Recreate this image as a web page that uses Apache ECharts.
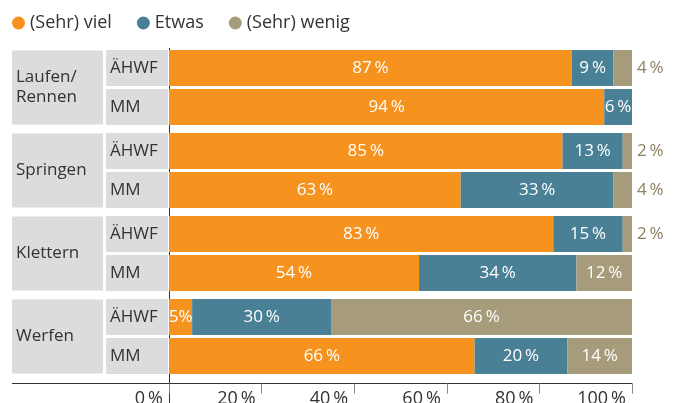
<!DOCTYPE html>
<html>
<head>
<meta charset="utf-8">
<script src="https://cdn.jsdelivr.net/npm/echarts@6/dist/echarts.min.js"></script>
<style>html,body{margin:0;padding:0;background:#fff}#chart{width:681px;height:403px}</style>
</head>
<body>
<div id="chart"></div>
<script>
// Gruppen und Zeilen
const groups = ['Laufen/\nRennen', 'Springen', 'Klettern', 'Werfen'];
const subgroups = ['ÄHWF', 'MM'];
const seriesNames = ['(Sehr) viel', 'Etwas', '(Sehr) wenig'];
// Werte je Zeile: ÄHWF, MM für jede Gruppe
const viel = [87, 94, 85, 63, 83, 54, 5, 66];
const etwas = [9, 6, 13, 33, 15, 34, 30, 20];
const wenig = [4, 0, 2, 4, 2, 12, 66, 14];

const colors = ['#f6921e', '#4a8096', '#a69b7a'];
const font = 'Open Sans';
const chart = echarts.init(document.getElementById('chart'));

const values = [viel, etwas, wenig];
const gridTops = [48.5, 131.5, 214.5, 297.5];
const grid = [], xAxis = [], yAxis = [], series = [];

gridTops.forEach(function (top, g) {
  const last = g === gridTops.length - 1;
  grid.push({ left: 169, right: 49, top: top, height: 78, outerBoundsMode: 'none' });
  xAxis.push({
    gridIndex: g, type: 'value', min: 0, max: 100, interval: 20,
    show: last, offset: 8,
    axisLine: { show: true, lineStyle: { color: '#333', width: 1 } },
    axisTick: { show: true, length: 10, lineStyle: { color: '#888' } },
    splitLine: { show: false },
    axisLabel: {
      formatter: '{value}\u2009%', align: 'right', padding: [0, 6, 0, 0], margin: 6,
      fontSize: 18, color: '#333', fontFamily: font
    }
  });
  // Zeilenbeschriftung (ÄHWF / MM)
  yAxis.push({
    gridIndex: g, type: 'category', position: 'left', inverse: true, data: subgroups,
    axisLine: { show: false }, axisTick: { show: false },
    axisLabel: {
      interval: 0, align: 'left', margin: 63, width: 58, padding: [0, 0, 0, 4],
      lineHeight: 36, backgroundColor: '#dcdcde', color: '#333', fontSize: 17, fontFamily: font
    }
  });
  // Gruppenbeschriftung
  const twoLines = groups[g].indexOf('\n') >= 0;
  yAxis.push({
    gridIndex: g, type: 'category', position: 'left', offset: 0, data: [groups[g]],
    axisLine: { show: false }, axisTick: { show: false },
    axisLabel: {
      interval: 0, align: 'left', margin: 157, width: 87,
      padding: twoLines ? [17, 0, 17, 4] : [27, 0, 27, 4],
      lineHeight: 20, backgroundColor: '#dcdcde', color: '#333', fontSize: 17, fontFamily: font
    }
  });

  seriesNames.forEach(function (name, s) {
    const data = [0, 1].map(function (i) {
      const v = values[s][g * 2 + i];
      const outside = s === 2 && v < 5;
      return {
        value: v,
        label: outside
          ? { show: v > 0, position: 'right', distance: 5, color: '#8c8060' }
          : { show: v > 0, position: 'inside', color: '#fff' }
      };
    });
    series.push({
      name: name, type: 'bar', stack: 'g' + g,
      xAxisIndex: g, yAxisIndex: g * 2,
      barWidth: 36, data: data,
      itemStyle: { color: colors[s] },
      label: {
        fontSize: 17, fontFamily: font,
        formatter: function (p) { return p.value + (p.value <= 5 && s < 2 ? '%' : '\u2009%'); }
      }
    });
  });
});

chart.setOption({
  animation: false,
  color: colors,
  legend: {
    data: seriesNames, left: 12, top: 14, padding: 0, icon: 'circle',
    itemWidth: 13, itemHeight: 13, itemGap: 25,
    textStyle: { fontSize: 18, color: '#333', fontFamily: font }
  },
  grid: grid,
  xAxis: xAxis,
  yAxis: yAxis,
  series: series,
  graphic: [
    { type: 'line', shape: { x1: 169.5, y1: 48, x2: 169.5, y2: 403 }, style: { stroke: '#333', lineWidth: 1 } },
    { type: 'line', shape: { x1: 12, y1: 383.5, x2: 170, y2: 383.5 }, style: { stroke: '#333', lineWidth: 1 } }
  ]
});
</script>
</body>
</html>
